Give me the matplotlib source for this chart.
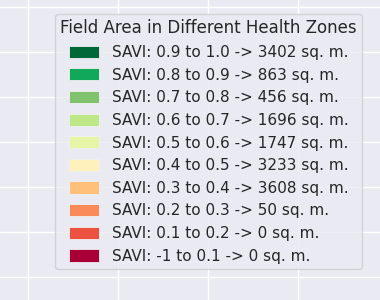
import matplotlib
matplotlib.use("Agg")
import matplotlib.pyplot as plt
import matplotlib.patches as mpatches
import seaborn as sns

sns.set_theme(style="darkgrid")
plt.rcParams['font.family'] = ['DejaVu Sans']

ranges = ["0.9 to 1.0", "0.8 to 0.9", "0.7 to 0.8", "0.6 to 0.7", "0.5 to 0.6",
          "0.4 to 0.5", "0.3 to 0.4", "0.2 to 0.3", "0.1 to 0.2", "-1 to 0.1"]
areas = [3402, 863, 456, 1696, 1747, 3233, 3608, 50, 0, 0]
colors = ["#006837", "#12a85a", "#80c26e", "#bee788", "#e7f5a6",
          "#fff1bb", "#fec07b", "#fb8a5a", "#ec5140", "#a80036"]
title = "Field Area in Different Health Zones"

fig = plt.figure(figsize=(3.8, 3.0), dpi=100)
ax = fig.add_axes([0, 0, 1, 1])
ax.set_xlim(-28 / 90, (380 - 28) / 90)
ax.set_ylim(-23 / 45, (300 - 23) / 45)
ax.set_xticks(range(0, 4))
ax.set_yticks(range(0, 7))
ax.tick_params(labelbottom=False, labelleft=False, length=0)
for s in ax.spines.values():
    s.set_visible(False)

handles = [mpatches.Patch(facecolor=c, edgecolor="#f0f0f0", linewidth=0.6,
                          label=f"SAVI: {r} -> {a} sq. m.")
           for r, a, c in zip(ranges, areas, colors)]
leg = ax.legend(handles=handles, title=title, loc="upper left",
                bbox_to_anchor=(55 / 380, 1 - 14 / 300), borderaxespad=0,
                fontsize=11, title_fontsize=12, labelspacing=0.5,
                handleheight=0.85, borderpad=0.35)

fig.savefig("out.png", dpi=100)
